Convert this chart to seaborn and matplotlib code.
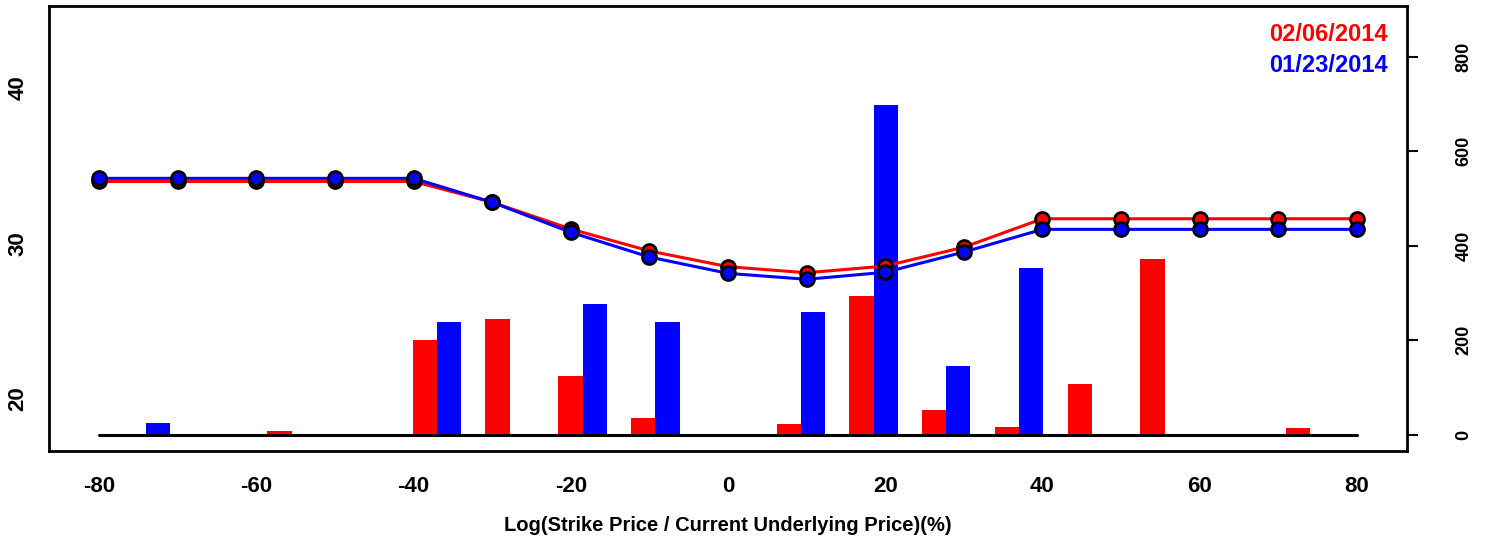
import numpy as np
import pandas as pd
import seaborn as sns
import matplotlib
matplotlib.use("Agg")
import matplotlib.pyplot as plt
from matplotlib.transforms import blended_transform_factory

# ----------------------------
# Data
# ----------------------------
strikes = [-80, -70, -60, -50, -40, -30, -20, -10, 0, 10, 20, 30, 40, 50, 60, 70, 80]

# implied volatility curves (left axis)
iv_0206 = [33.99, 33.99, 33.99, 33.99, 33.99, 32.65, 30.93, 29.52, 28.51,
           28.12, 28.55, 29.76, 31.59, 31.59, 31.59, 31.59, 31.59]
iv_0123 = [34.19, 34.19, 34.19, 34.19, 34.19, 32.65, 30.72, 29.13, 28.08,
           27.70, 28.15, 29.45, 30.91, 30.91, 30.91, 30.91, 30.91]

# volume bars (right axis), one pair per strike bucket
vol_0206 = [0, 0, 8, 0, 200, 245, 123, 34, 0, 23, 294, 51, 15, 108, 372, 0, 13]
vol_0123 = [25, 0, 0, 0, 239, 0, 277, 239, 0, 260, 698, 146, 353, 0, 0, 0, 0]

dates = ["02/06/2014", "01/23/2014"]
colors = {"02/06/2014": "red", "01/23/2014": "blue"}

bars = pd.DataFrame({
    "bucket": [str(s) for s in strikes] * 2,
    "volume": vol_0206 + vol_0123,
    "date": [dates[0]] * len(strikes) + [dates[1]] * len(strikes),
})

# ----------------------------
# Style
# ----------------------------
sns.set_style("white")
plt.rcParams["font.family"] = ["Liberation Sans", "DejaVu Sans"]
plt.rcParams["font.weight"] = "bold"
plt.rcParams["axes.unicode_minus"] = False
plt.rcParams["text.color"] = "black"
plt.rcParams["xtick.color"] = "black"
plt.rcParams["ytick.color"] = "black"

fig = plt.figure(figsize=(14.86, 5.42), dpi=100)
rect = [49 / 1486, 1 - 451 / 542, (1407 - 49) / 1486, (451 - 6) / 542]

# bars in their own coordinate system (like R barplot with par(new=TRUE))
axb = fig.add_axes(rect)
sns.barplot(data=bars, x="bucket", y="volume", hue="date", hue_order=dates,
            order=[str(s) for s in strikes], palette=colors, saturation=1,
            width=2 / 3, gap=0, linewidth=0, legend=False, ax=axb)
vmax = max(vol_0206 + vol_0123) * 1.25
axb.set_ylim(-0.04 * vmax, vmax * 1.04)
axb.set_xlim(-4 / 3, len(strikes) + 1 / 3)
axb.set_xlabel("")
axb.set_ylabel("")
axb.xaxis.set_visible(False)
axb.yaxis.tick_right()
axb.set_yticks([0, 200, 400, 600, 800])
axb.tick_params(axis="y", direction="out", length=8, width=1.5, pad=27,
                labelsize=13, labelcolor="black")
plt.setp(axb.get_yticklabels(), rotation=90, va="center", fontweight="bold")
for sp in axb.spines.values():
    sp.set_visible(False)

# lines on top
ax = fig.add_axes(rect)
ax.patch.set_alpha(0)
ax.set_xlim(-86.4, 86.4)
ax.set_ylim(16.66, 45.27)

sns.lineplot(x=strikes, y=iv_0206, color="red", lw=2.2, marker="o",
             markersize=10, markerfacecolor="red", markeredgecolor="black",
             markeredgewidth=2, ax=ax)
sns.lineplot(x=strikes, y=iv_0123, color="blue", lw=2.2, marker="o",
             markersize=10, markerfacecolor="blue", markeredgecolor="black",
             markeredgewidth=2, ax=ax)

# baseline of the bar chart, spanning the strike range
tr = blended_transform_factory(ax.transData, axb.transData)
ax.plot([strikes[0], strikes[-1]], [0, 0], color="black", lw=2.2,
        transform=tr, zorder=1)

ax.set_xticks(range(-80, 81, 20))
ax.set_yticks([20, 30, 40])
ax.tick_params(axis="x", direction="out", length=8, width=1.5, pad=10,
               labelsize=16, labelcolor="black")
ax.tick_params(axis="y", direction="out", length=8, width=1.5, pad=7,
               labelsize=16, labelcolor="black")
plt.setp(ax.get_yticklabels(), rotation=90, va="center", fontweight="bold")
plt.setp(ax.get_xticklabels(), fontweight="bold")
for sp in ax.spines.values():
    sp.set_visible(True)
    sp.set_linewidth(2)
    sp.set_color("black")

ax.set_xlabel("Log(Strike Price / Current Underlying Price)(%)",
              fontsize=14.5, fontweight="bold", labelpad=14, color="black")

# date labels, top right
ax.text(0.986, 0.937, dates[0], color="red", transform=ax.transAxes,
        ha="right", va="center", fontsize=17, fontweight="bold")
ax.text(0.986, 0.867, dates[1], color="blue", transform=ax.transAxes,
        ha="right", va="center", fontsize=17, fontweight="bold")

fig.savefig("out.png", dpi=100)
